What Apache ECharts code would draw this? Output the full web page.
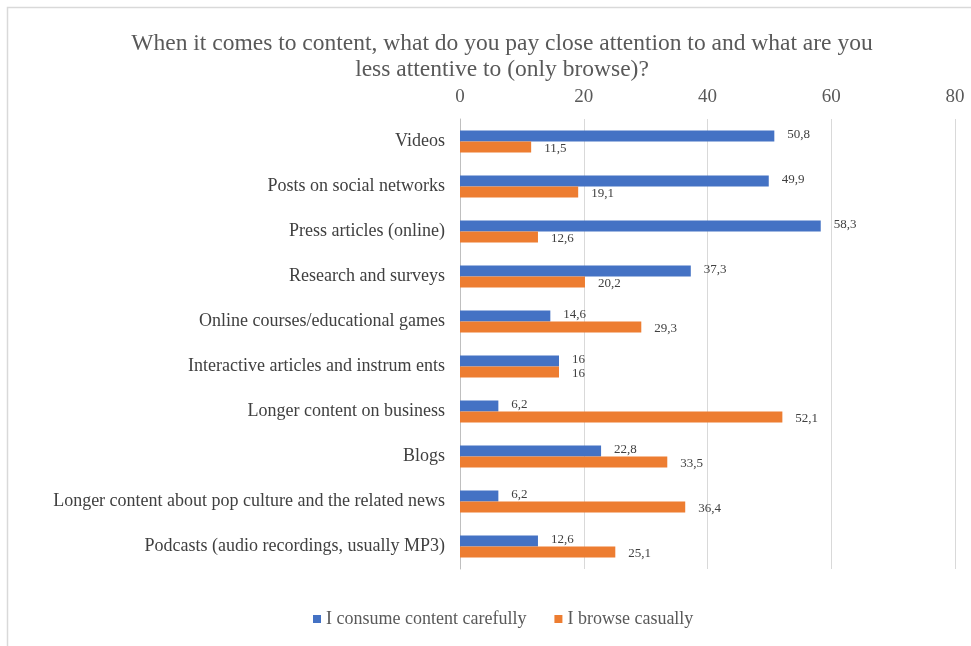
<!DOCTYPE html>
<html>
<head>
<meta charset="utf-8">
<script src="https://cdn.jsdelivr.net/npm/echarts@6/dist/echarts.min.js"></script>
<style>
  html, body { margin: 0; padding: 0; background: #fff; }
  #chart { width: 971px; height: 646px; }
</style>
</head>
<body>
<div id="chart"></div>
<script>
// categories, top to bottom
var categories = [
  "Videos",
  "Posts on social networks",
  "Press articles (online)",
  "Research and surveys",
  "Online courses/educational games",
  "Interactive articles and instrum ents",
  "Longer content on business",
  "Blogs",
  "Longer content about pop culture and the related news",
  "Podcasts (audio recordings, usually MP3)"
];
var carefully = [50.8, 49.9, 58.3, 37.3, 14.6, 16, 6.2, 22.8, 6.2, 12.6];
var casually = [11.5, 19.1, 12.6, 20.2, 29.3, 16, 52.1, 33.5, 36.4, 25.1];
var xTicks = [0, 20, 40, 60, 80];

var serif = "'Liberation Serif', 'DejaVu Serif', serif";

// comma as decimal separator, like the original
function fmt(p) {
  return String(p.value).replace(".", ",");
}

var chart = echarts.init(document.getElementById("chart"));
var option = {
  animation: false,
  backgroundColor: "#fff",
  title: {
    text: "When it comes to content, what do you pay close attention to and what are you\nless attentive to (only browse)?",
    left: 497,
    textAlign: "center",
    top: 26,
    textStyle: {
      fontFamily: serif,
      fontSize: 23.5,
      fontWeight: "normal",
      color: "#595959",
      lineHeight: 26
    }
  },
  graphic: [{
    type: "rect",
    shape: { x: 7.5, y: 7.5, width: 980, height: 660 },
    style: { fill: null, stroke: "#d9d9d9", lineWidth: 1.5 },
    silent: true
  }],
  legend: {
    bottom: 13,
    left: 308,
    itemWidth: 8,
    itemHeight: 8,
    itemGap: 28,
    icon: "rect",
    textStyle: { fontFamily: serif, fontSize: 18, color: "#595959" },
    data: ["I consume content carefully", "I browse casually"]
  },
  grid: {
    left: 460,
    right: 16,
    top: 119,
    bottom: 77
  },
  xAxis: {
    type: "value",
    position: "top",
    min: xTicks[0],
    max: xTicks[xTicks.length - 1],
    interval: 20,
    axisLine: { show: false },
    axisTick: { show: false },
    axisLabel: {
      fontFamily: serif,
      fontSize: 19,
      color: "#595959",
      margin: 12
    },
    splitLine: { lineStyle: { color: "#d9d9d9", width: 1 } }
  },
  yAxis: {
    type: "category",
    inverse: true,
    data: categories,
    axisLine: { lineStyle: { color: "#bfbfbf" } },
    axisTick: { show: false },
    axisLabel: {
      fontFamily: serif,
      fontSize: 18,
      color: "#404040",
      margin: 15
    }
  },
  series: [
    {
      name: "I consume content carefully",
      type: "bar",
      data: carefully,
      barWidth: 11,
      barGap: "0%",
      itemStyle: { color: "#4472C4" },
      label: {
        show: true,
        position: "right",
        distance: 13,
        offset: [0, -1],
        formatter: fmt,
        fontFamily: serif,
        fontSize: 13,
        color: "#404040"
      }
    },
    {
      name: "I browse casually",
      type: "bar",
      data: casually,
      barWidth: 11,
      barGap: "0%",
      itemStyle: { color: "#ED7D31" },
      label: {
        show: true,
        position: "right",
        distance: 13,
        offset: [0, 2],
        formatter: fmt,
        fontFamily: serif,
        fontSize: 13,
        color: "#404040"
      }
    }
  ]
};
chart.setOption(option);
</script>
</body>
</html>
